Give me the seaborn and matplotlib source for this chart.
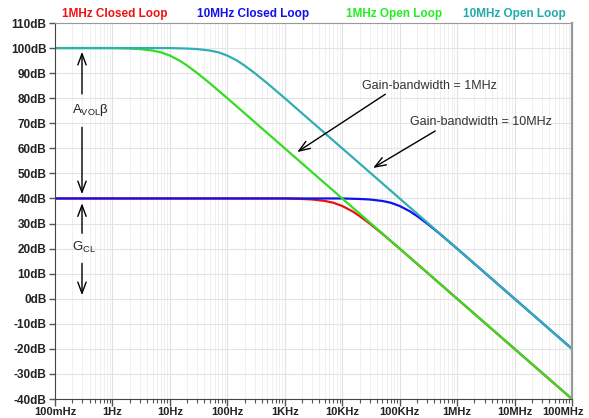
import numpy as np
import pandas as pd
import matplotlib
matplotlib.use("Agg")
import matplotlib.pyplot as plt
from matplotlib.ticker import NullFormatter
import seaborn as sns

# values (frequency in Hz, gain in dB)
cl1_freq = [0.1, 1e3, 2e3, 3e3, 5e3, 7e3, 1e4, 1.5e4, 2e4, 3e4, 5e4, 1e5, 1e6, 1e7, 1e8]
cl1_db = [40, 40, 39.8, 39.6, 39.0, 38.3, 37.0, 34.9, 33.0, 30.0, 25.9, 20.0, 0, -20, -40]

cl10_freq = [0.1, 1e4, 2e4, 3e4, 5e4, 7e4, 1e5, 1.5e5, 2e5, 3e5, 5e5, 1e6, 1e7, 1e8]
cl10_db = [40, 40, 39.8, 39.6, 39.0, 38.3, 37.0, 34.9, 33.0, 30.0, 25.9, 20.0, 0, -20]

ol1_freq = [0.1, 1, 2, 3, 5, 7, 10, 15, 20, 30, 50, 100, 1e3, 1e4, 1e5, 1e6, 1e7, 1e8]
ol1_db = [100, 100, 99.8, 99.6, 99.0, 98.3, 97.0, 94.9, 93.0, 90.0, 85.9, 80.0, 60, 40, 20, 0, -20, -40]

ol10_freq = [0.1, 10, 20, 30, 50, 70, 100, 150, 200, 300, 500, 1e3, 1e4, 1e5, 1e6, 1e7, 1e8]
ol10_db = [100, 100, 99.8, 99.6, 99.0, 98.3, 97.0, 94.9, 93.0, 90.0, 85.9, 80.0, 60, 40, 20, 0, -20]

series_names = ["1MHz Closed Loop", "10MHz Closed Loop", "1MHz Open Loop", "10MHz Open Loop"]
series_colors = ["#ee1111", "#1111ee", "#33dd22", "#30aeb4"]
label_colors = ["#ee1111", "#1111ee", "#22ee22", "#22aaaa"]

xtick_vals = [1e-1, 1, 1e1, 1e2, 1e3, 1e4, 1e5, 1e6, 1e7, 1e8]
xtick_labels = ["100mHz", "1Hz", "10Hz", "100Hz", "1KHz", "10KHz", "100KHz", "1MHz", "10MHz", "100MHz"]
ytick_vals = list(range(-40, 111, 10))
ytick_labels = [f"{v}dB" for v in ytick_vals]

frames = []
for name, f, g in zip(series_names,
                      [cl1_freq, cl10_freq, ol1_freq, ol10_freq],
                      [cl1_db, cl10_db, ol1_db, ol10_db]):
    frames.append(pd.DataFrame({"freq": f, "db": g, "series": name}))
df = pd.concat(frames, ignore_index=True)

sns.set_style("white")
plt.rcParams["font.family"] = ["Liberation Sans", "DejaVu Sans"]
plt.rcParams["mathtext.fontset"] = "custom"
plt.rcParams["mathtext.rm"] = "Liberation Sans"

fig = plt.figure(figsize=(5.89, 4.18), dpi=100)
ax = fig.add_axes([55 / 589, 1 - 399 / 418, 517 / 589, 376 / 418])

ax.set_xscale("log")
sns.lineplot(data=df, x="freq", y="db", hue="series", hue_order=series_names,
             palette=dict(zip(series_names, series_colors)), estimator=None,
             sort=False, legend=False, lw=1.6, ax=ax)

ax.set_xlim(0.1, 1e8)
ax.set_ylim(-40, 110)
ax.set_xticks(xtick_vals)
# last label is placed by hand so it stays inside the figure
ax.set_xticklabels(xtick_labels[:-1] + [""])
ax.xaxis.set_minor_formatter(NullFormatter())
ax.set_yticks(ytick_vals)
ax.set_yticklabels(ytick_labels)
ax.set_xlabel("")
ax.set_ylabel("")

for lab in ax.get_xticklabels():
    lab.set_fontweight("bold")
    lab.set_fontsize(8)
    lab.set_color("#222222")
for lab in ax.get_yticklabels():
    lab.set_fontweight("bold")
    lab.set_fontsize(8.5)
    lab.set_color("#222222")

ax.annotate(xtick_labels[-1], xy=(xtick_vals[-1], 0), xycoords=("data", "axes fraction"),
            xytext=(-6.5, -6), textcoords="offset points", ha="center", va="top",
            fontsize=8, fontweight="bold", color="#222222", annotation_clip=False)

ax.tick_params(axis="x", which="major", length=5, width=1, color="#555555", pad=1, direction="out", bottom=True)
ax.tick_params(axis="x", which="minor", length=3, width=0.8, color="#555555", direction="out", bottom=True)
ax.tick_params(axis="y", which="major", length=4, width=1, color="#555555", pad=2, direction="out", left=True)

ax.grid(True, axis="x", which="major", color="#e2e2e2", lw=0.8)
ax.grid(True, axis="x", which="minor", color="#f0f0f0", lw=0.7)
ax.grid(True, axis="y", which="major", color="#e4e4e4", lw=0.8)
ax.set_axisbelow(True)

ax.spines["left"].set_color("#444444")
ax.spines["bottom"].set_color("#444444")
ax.spines["top"].set_color("#999999")
ax.spines["right"].set_color("#999999")
ax.spines["right"].set_linewidth(1.6)

# series names above the plot
for name, col, xc in zip(series_names, label_colors, [115, 253, 394, 514]):
    fig.text(xc / 589, 1 - 14 / 418, name, color=col, fontsize=8.5,
             fontweight="bold", ha="center", va="center")

arrow = dict(arrowstyle="->,head_length=0.8,head_width=0.3", color="black", lw=1)

# A_VOL beta double arrow
ax.annotate("", xy=(0.295, 99.6), xytext=(0.295, 80.6), arrowprops=arrow)
ax.annotate("", xy=(0.295, 40.6), xytext=(0.295, 69.5), arrowprops=arrow)
ax.text(0.2, 75.2, "A$_{\\rm VOL}$β", fontsize=9.5, ha="left", va="center", color="#222222")

# G_CL double arrow
ax.annotate("", xy=(0.295, 39.2), xytext=(0.295, 25.0), arrowprops=arrow)
ax.annotate("", xy=(0.295, 0.3), xytext=(0.295, 15.2), arrowprops=arrow)
ax.text(0.2, 20.6, "G$_{\\rm CL}$", fontsize=9.5, ha="left", va="center", color="#222222")

# gain-bandwidth callouts
ax.annotate("", xy=(1500, 57.9), xytext=(61800, 82.2), arrowprops=arrow)
ax.text(3.33e5, 85, "Gain-bandwidth = 1MHz", fontsize=9, ha="center", va="center", color="#333333")
ax.annotate("", xy=(31300, 51.6), xytext=(4.58e5, 67.5), arrowprops=arrow)
ax.text(2.56e6, 70.7, "Gain-bandwidth = 10MHz", fontsize=9, ha="center", va="center", color="#333333")

fig.savefig("out.png", dpi=100, facecolor="white")
